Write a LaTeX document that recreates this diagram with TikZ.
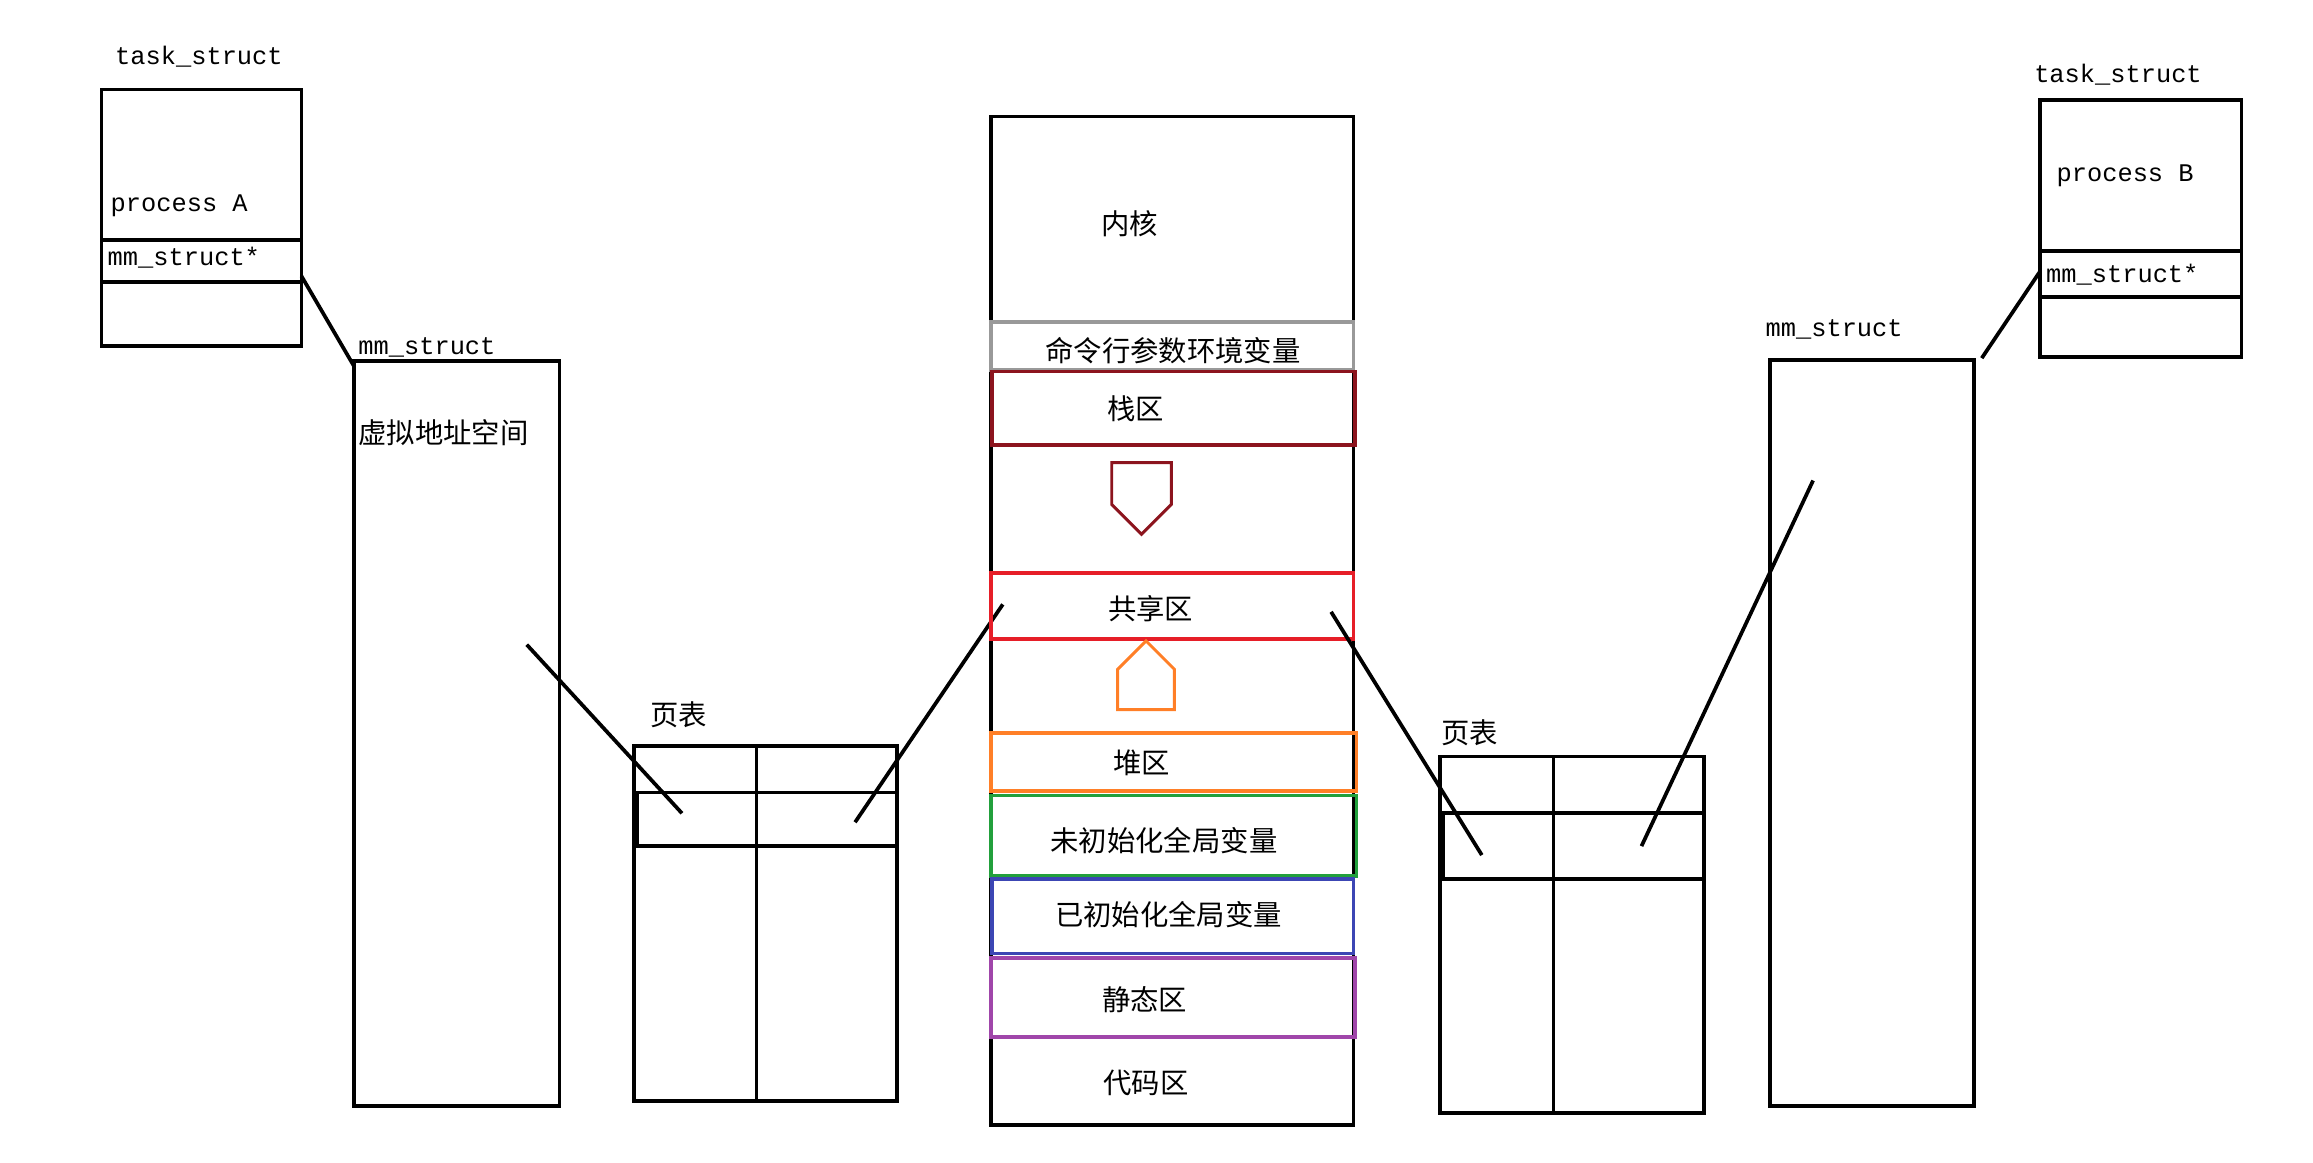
\documentclass[tikz,border=0pt]{standalone}
\usepackage{fontspec}
\setmainfont{Liberation Serif}
\newfontfamily\cjk{Noto Sans CJK SC}
\newfontfamily\mono{Liberation Mono}
\usetikzlibrary{shapes.arrows}
\definecolor{dred}{RGB}{140,20,30}
\definecolor{rred}{RGB}{230,30,40}
\definecolor{orng}{RGB}{255,127,39}
\definecolor{grn}{RGB}{34,160,60}
\definecolor{blu}{RGB}{60,70,180}
\definecolor{purp}{RGB}{160,70,170}
\begin{document}
\begin{tikzpicture}[x=1pt,y=-1pt,
  bx/.style={draw=black,line width=2.5pt},
  seg/.style={draw=black,line width=2.5pt},
  lbl/.style={font=\mono\fontsize{17}{17}\selectfont,inner sep=0pt},
  zh/.style={font=\cjk\fontsize{19}{19}\selectfont,inner sep=0pt},
  cz/.style={font=\cjk\fontsize{19}{19}\selectfont,inner sep=0pt}]
\useasboundingbox (0,0) rectangle (1550,779);
% left task_struct
\draw[bx] (68,60) rectangle (202,232);
\draw[bx] (68,161) rectangle (202,189);
\node[lbl,anchor=west] (tsA) at (77,38) {task\_struct};
\node[lbl,anchor=west] (pA) at (74,138) {process A};
\node[lbl,anchor=west] (mmA) at (72,173) {mm\_struct*};
\coordinate (a1) at (202,185); \coordinate (a2) at (237,245);
\draw[seg] (a1) -- (a2);
% left mm_struct
\draw[bx] (237,242) rectangle (375,741);
\node[lbl,anchor=west] (msA) at (240,233) {mm\_struct};
\node[zh,anchor=west] (vA) at (240,290) {虚拟地址空间};
% left page table
\draw[bx] (425,500) rectangle (601,738);
\draw[bx] (507,500) -- (507,738);
\draw[bx] (427,531) rectangle (601,567);
\node[zh] (ptA) at (455,479) {页表};
\coordinate (b1) at (353,432); \coordinate (b2) at (457,545);
\draw[seg] (b1) -- (b2);
\coordinate (c1) at (573,551); \coordinate (c2) at (672,405);
\draw[seg] (c1) -- (c2);
% center
\draw[bx] (664,78) rectangle (907,754);
\node[cz] (k) at (757,150) {内核};
\draw[draw=gray!80,line width=2.5pt] (664,216) rectangle (907,248);
\node[cz] (cmd) at (786,235) {命令行参数环境变量};
\draw[draw=dred,line width=2.5pt] (665,249) rectangle (908,298);
\node[cz] (st) at (761,274) {栈区};
\node[draw=dred,line width=2pt,single arrow,shape border rotate=270,minimum height=48pt,minimum width=40pt,single arrow head extend=0pt,single arrow tip angle=90,inner sep=0pt] (da) at (765,324) {};
\draw[draw=rred,line width=2.5pt] (664,384) rectangle (907,428);
\node[cz] (sh) at (771,408) {共享区};
\node[draw=orng,line width=2pt,single arrow,shape border rotate=90,minimum height=46pt,minimum width=38pt,single arrow head extend=0pt,single arrow tip angle=90,inner sep=0pt] (ua) at (768,462) {};
\draw[draw=orng,line width=2.5pt] (664,491) rectangle (909,530);
\node[cz] (hp) at (765,511) {堆区};
\draw[draw=grn,line width=2.5pt] (664,533) rectangle (909,587);
\node[cz] (bss) at (780,563) {未初始化全局变量};
\draw[draw=blu,line width=2.5pt] (665,589) rectangle (907,639);
\node[cz] (dat) at (783,613) {已初始化全局变量};
\draw[draw=purp,line width=2.5pt] (664,642) rectangle (908,695);
\node[cz] (sta) at (767,670) {静态区};
\node[cz] (code) at (768,726) {代码区};
\coordinate (d1) at (892,410); \coordinate (d2) at (993,573);
\draw[seg] (d1) -- (d2);
% right page table
\draw[bx] (965,507) rectangle (1142,746);
\draw[bx] (1041,507) -- (1041,746);
\draw[bx] (967,545) rectangle (1142,589);
\node[zh] (ptB) at (985,491) {页表};
\coordinate (e1) at (1100,567); \coordinate (e2) at (1215,322);
\draw[seg] (e1) -- (e2);
% right mm_struct
\draw[bx] (1186,241) rectangle (1323,741);
\node[lbl,anchor=west] (msB) at (1183,221) {mm\_struct};
\coordinate (f1) at (1328,240); \coordinate (f2) at (1367,182);
\draw[seg] (f1) -- (f2);
% right task_struct
\draw[bx] (1367,67) rectangle (1502,239);
\draw[bx] (1367,168) rectangle (1502,199);
\node[lbl,anchor=west] (tsB) at (1363,50) {task\_struct};
\node[lbl,anchor=west] (pB) at (1378,118) {process B};
\node[lbl,anchor=west] (mmB) at (1371,184) {mm\_struct*};
\end{tikzpicture}
\end{document}
